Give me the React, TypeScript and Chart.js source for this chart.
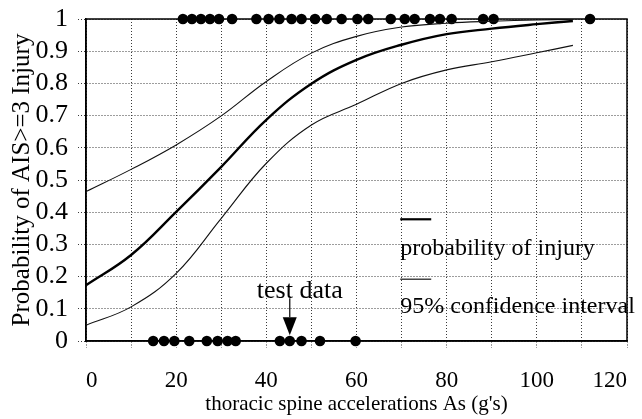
import { useEffect, useRef } from "react";
import { Chart, registerables } from "chart.js";

Chart.register(...registerables);

// Fitted logistic curve and its 95% confidence band, sampled along As (g's)
const curveAs = [0, 10, 20, 30, 40, 50, 60, 70, 80, 90, 100, 108];
const probInjury = [0.173, 0.267, 0.401, 0.541, 0.687, 0.799, 0.873, 0.92, 0.953, 0.97, 0.984, 0.994];
const upperBound = [0.464, 0.533, 0.609, 0.699, 0.806, 0.894, 0.946, 0.975, 0.987, 0.993, 0.997, 0.999];
const lowerBound = [0.049, 0.106, 0.21, 0.381, 0.552, 0.671, 0.735, 0.8, 0.842, 0.867, 0.895, 0.918];

// Test data: accelerations of tests with AIS>=3 injury (1) and without (0)
const injuredAs = [
  21.5, 23.5, 25.5, 27.5, 29.5, 32.4, 37.8, 40.5, 42.9, 45.6, 47.8, 50.8, 53.4, 56.7,
  60.2, 62.6, 67.6, 70.7, 72.9, 76.3, 78.5, 81.1, 88.1, 90.4, 111.8,
];
const uninjuredAs = [14.9, 17.3, 19.6, 22.9, 26.8, 29.2, 31.4, 33.2, 43, 45.2, 47.8, 51.9, 59.8];

// Axis ticks
const xTickStep = 10;
const xLabelEvery = 20;
const yTickStep = 0.1;

const legendLabels = ["probability of injury", "95% confidence interval"];
const annotationText = "test data";
const annotatedAs = 45.2;

const FONT = '"Liberation Serif", "Times New Roman", serif';

const framePlugin = {
  id: "frame",
  beforeDatasetsDraw(chart: any) {
    const { ctx, chartArea } = chart;
    ctx.save();
    ctx.strokeStyle = "#000";
    ctx.lineWidth = 1.5;
    ctx.strokeRect(chartArea.left, chartArea.top, chartArea.right - chartArea.left, chartArea.bottom - chartArea.top);
    ctx.restore();
  },
};

const notesPlugin = {
  id: "notes",
  afterDraw(chart: any) {
    const { ctx } = chart;
    const xs = chart.scales.x;
    const ys = chart.scales.y;
    ctx.save();
    ctx.fillStyle = "#000";
    ctx.strokeStyle = "#000";
    ctx.font = `24px ${FONT}`;
    ctx.textBaseline = "middle";

    // legend: short line sample above each label
    const lx = xs.getPixelForValue(69.7);
    const sampleW = 31;
    ctx.lineWidth = 2.2;
    ctx.beginPath();
    ctx.moveTo(lx, ys.getPixelForValue(0.378));
    ctx.lineTo(lx + sampleW, ys.getPixelForValue(0.378));
    ctx.stroke();
    ctx.textAlign = "left";
    ctx.fillText(legendLabels[0], lx, ys.getPixelForValue(0.288));

    ctx.lineWidth = 1.1;
    ctx.beginPath();
    ctx.moveTo(lx, ys.getPixelForValue(0.192));
    ctx.lineTo(lx + sampleW, ys.getPixelForValue(0.192));
    ctx.stroke();
    ctx.fillText(legendLabels[1], lx, ys.getPixelForValue(0.106));

    // "test data" label with arrow down to the sample
    const ax = xs.getPixelForValue(annotatedAs);
    ctx.font = `26px ${FONT}`;
    ctx.textAlign = "center";
    ctx.fillText(annotationText, ax + 10, ys.getPixelForValue(0.156));
    const shaftTop = ys.getPixelForValue(0.133);
    const headTop = ys.getPixelForValue(0.074);
    const tip = ys.getPixelForValue(0.018);
    ctx.lineWidth = 1.2;
    ctx.beginPath();
    ctx.moveTo(ax, shaftTop);
    ctx.lineTo(ax, headTop);
    ctx.stroke();
    ctx.beginPath();
    ctx.moveTo(ax - 7, headTop);
    ctx.lineTo(ax + 7, headTop);
    ctx.lineTo(ax, tip);
    ctx.closePath();
    ctx.fill();
    ctx.restore();
  },
};

export default function App() {
  const canvasRef = useRef<HTMLCanvasElement | null>(null);

  useEffect(() => {
    const canvas = canvasRef.current;
    if (!canvas) return;

    const toPoints = (ys: number[]) => curveAs.map((x, i) => ({ x, y: ys[i] }));
    const gridColor = "#3a3a3a";

    const chart = new Chart(canvas, {
      type: "scatter",
      data: {
        datasets: [
          {
            label: "upper 95%",
            data: toPoints(upperBound),
            showLine: true,
            borderColor: "#111",
            borderWidth: 1.1,
            pointRadius: 0,
            tension: 0.4,
          },
          {
            label: "probability of injury",
            data: toPoints(probInjury),
            showLine: true,
            borderColor: "#000",
            borderWidth: 2.4,
            pointRadius: 0,
            tension: 0.4,
          },
          {
            label: "lower 95%",
            data: toPoints(lowerBound),
            showLine: true,
            borderColor: "#111",
            borderWidth: 1.1,
            pointRadius: 0,
            tension: 0.4,
          },
          {
            label: "test data",
            data: [
              ...injuredAs.map((x) => ({ x, y: 1 })),
              ...uninjuredAs.map((x) => ({ x, y: 0 })),
            ],
            showLine: false,
            pointRadius: 5.3,
            pointBackgroundColor: "#000",
            pointBorderColor: "#000",
            pointBorderWidth: 0,
            clip: false,
          } as any,
        ],
      },
      options: {
        responsive: false,
        animation: false,
        events: [],
        layout: { padding: { top: 19, right: 15, bottom: 0, left: 0 } },
        plugins: {
          legend: { display: false },
          tooltip: { enabled: false },
        },
        scales: {
          x: {
            type: "linear",
            min: 0,
            max: 120,
            border: { display: true, color: "#000", width: 1.5, dash: [1, 2] },
            grid: {
              color: gridColor,
              lineWidth: 1,
              tickBorderDash: [1, 2],
              tickLength: 7,
              tickColor: gridColor,
            },
            ticks: {
              stepSize: xTickStep,
              autoSkip: false,
              maxRotation: 0,
              align: "inner",
              padding: 19,
              color: "#000",
              font: { family: FONT, size: 23 },
              callback: (v: any) => (Number(v) % xLabelEvery === 0 ? String(v) : ""),
            },
            title: {
              display: true,
              text: "thoracic spine accelerations As (g's)",
              color: "#000",
              font: { family: FONT, size: 21 },
              padding: { top: 0, bottom: 2 },
            },
            afterFit: (s: any) => {
              s.height = 78;
              s.paddingLeft = 0;
              s.paddingRight = 0;
            },
          },
          y: {
            type: "linear",
            min: 0,
            max: 1,
            border: { display: true, color: "#000", width: 1.5, dash: [1, 2] },
            grid: {
              color: gridColor,
              lineWidth: 1,
              tickBorderDash: [1, 2],
              tickLength: 8,
              tickColor: gridColor,
            },
            ticks: {
              stepSize: yTickStep,
              autoSkip: false,
              padding: 10,
              color: "#000",
              font: { family: FONT, size: 26 },
              callback: (v: any) => String(Number(Number(v).toFixed(1))),
            },
            title: {
              display: true,
              text: "Probability of AIS>=3 Injury",
              color: "#000",
              font: { family: FONT, size: 25 },
              padding: { top: 7, bottom: 0 },
            },
            afterFit: (s: any) => {
              s.width = 86;
              s.paddingTop = 0;
              s.paddingBottom = 0;
            },
          },
        },
      } as any,
      plugins: [framePlugin, notesPlugin],
    });

    return () => chart.destroy();
  }, []);

  return (
    <div style={{ position: "fixed", left: 0, top: 0, width: 642, height: 419, background: "#fff" }}>
      <canvas ref={canvasRef} width={642} height={419} style={{ display: "block" }} />
    </div>
  );
}
